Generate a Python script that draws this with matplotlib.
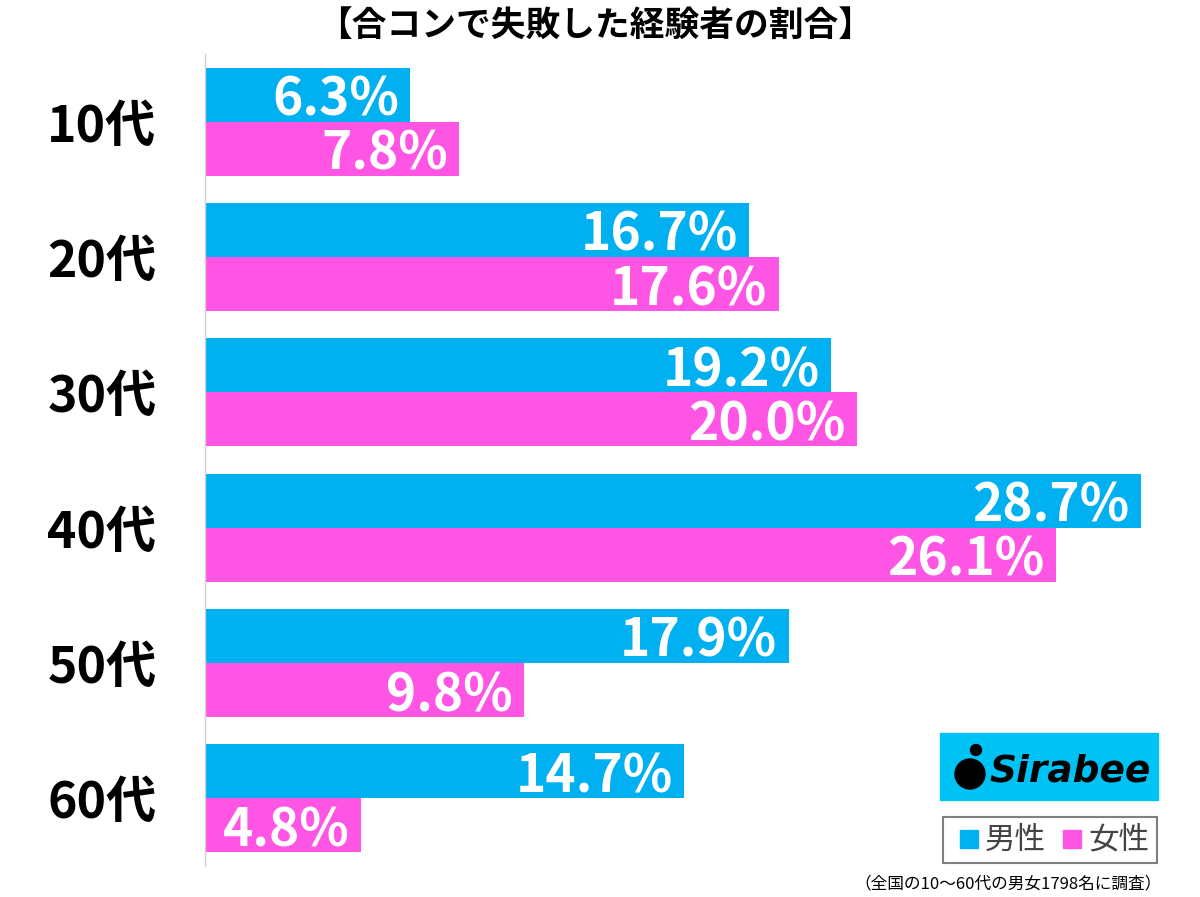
import matplotlib.pyplot as plt
from matplotlib.patches import Rectangle, Ellipse

plt.rcParams['font.family'] = ['Noto Sans CJK JP', 'DejaVu Sans']

ages = ["10代", "20代", "30代", "40代", "50代", "60代"]
male = [6.3, 16.7, 19.2, 28.7, 17.9, 14.7]
female = [7.8, 17.6, 20.0, 26.1, 9.8, 4.8]
title = "【合コンで失敗した経験者の割合】"
note = "（全国の10〜60代の男女1798名に調査）"

blue = "#00B0F0"
pink = "#FF55E5"

fig = plt.figure(figsize=(12, 8.97), dpi=100)
ax = fig.add_axes([205 / 1200, 31 / 897, 978 / 1200, 812 / 897])

h = 0.4
ys = list(range(len(ages)))
ax.barh([y - h / 2 for y in ys], male, height=h, color=blue)
ax.barh([y + h / 2 for y in ys], female, height=h, color=pink)

for y, m, f in zip(ys, male, female):
    ax.text(m - 0.35, y - h / 2, f"{m:.1f}%", ha="right", va="center_baseline",
            color="white", fontsize=37, fontweight="bold")
    ax.text(f - 0.35, y + h / 2, f"{f:.1f}%", ha="right", va="center_baseline",
            color="white", fontsize=37, fontweight="bold")

ax.set_xlim(0, 30)
ax.set_ylim(5.5, -0.5)
ax.set_yticks(ys)
ax.set_yticklabels(ages, fontsize=36, fontweight="bold")
ax.tick_params(axis="y", length=0, pad=35)
ax.set_xticks([])
for s in ["top", "right", "bottom"]:
    ax.spines[s].set_visible(False)
ax.spines["left"].set_color("#d0d0d0")
ax.spines["left"].set_linewidth(1)

fig.text(0.496, 1 - 25 / 897, title, ha="center", va="center", fontsize=25, fontweight="bold")

# Sirabee logo
W, H = 1200, 897
fig.patches.append(Rectangle((940 / W, 1 - 800 / H), 218 / W, 67 / H,
                             transform=fig.transFigure, color="#00C3F5"))
fig.patches.append(Ellipse((970 / W, 1 - 774 / H), 30 / W, 30 / H,
                           transform=fig.transFigure, color="black"))
fig.patches.append(Ellipse((976 / W, 1 - 750 / H), 11 / W, 11 / H,
                           transform=fig.transFigure, color="black"))
fig.text(1070 / W, 1 - 771 / H, "Sirabee", ha="center", va="center",
         fontsize=27, fontweight="bold", style="italic", family="DejaVu Sans")

# legend box
fig.patches.append(Rectangle((943 / W, 1 - 863 / H), 214 / W, 46 / H,
                             transform=fig.transFigure, facecolor="white",
                             edgecolor="#808080", linewidth=1.5))
fig.patches.append(Rectangle((960 / W, 1 - 848 / H), 18 / W, 18 / H,
                             transform=fig.transFigure, color=blue))
fig.text(985 / W, 1 - 840 / H, "男性", fontsize=22, va="center", color="#444444")
fig.patches.append(Rectangle((1063 / W, 1 - 848 / H), 18 / W, 18 / H,
                             transform=fig.transFigure, color=pink))
fig.text(1088 / W, 1 - 840 / H, "女性", fontsize=22, va="center", color="#444444")

fig.text(1162 / W, 1 - 884 / H, note, ha="right", va="center", fontsize=12)

fig.savefig("out.png")
